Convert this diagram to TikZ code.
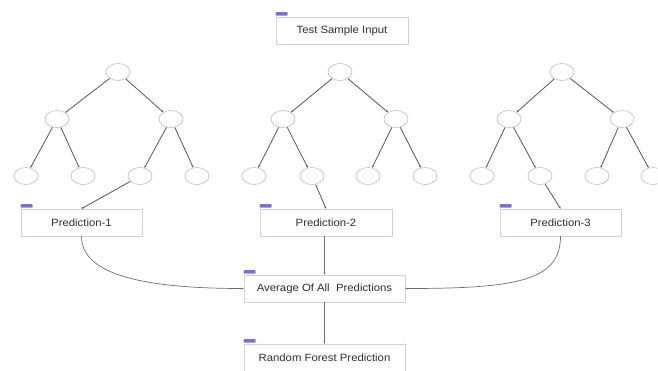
\documentclass[tikz,border=0pt]{standalone}
\usepackage{fontspec}
\setmainfont{Liberation Sans}[FakeStretch=1.08]
\usetikzlibrary{shapes.geometric,arrows.meta}
\definecolor{boxline}{HTML}{CFCFE6}
\definecolor{tabfill}{HTML}{7B6FE0}
\definecolor{leafline}{HTML}{C4C4C4}
\definecolor{edgeline}{HTML}{555555}
\definecolor{txt}{HTML}{2E2E2E}
\tikzset{
  leaf/.style={ellipse,draw=leafline,line width=0.7pt,fill=white,minimum width=24pt,minimum height=17pt,inner sep=0pt},
  card/.style={rectangle,draw=boxline,line width=0.7pt,fill=white,minimum height=27pt,inner sep=0pt,
    font=\fontsize{10.5}{12}\selectfont,text=txt},
  tedge/.style={draw=edgeline,line width=0.8pt,-{Stealth[length=2pt,width=2pt]}},
  flow/.style={draw=edgeline!85,line width=0.7pt,-{Stealth[length=2pt,width=2pt]}},
  tabbox/.style={fill=tabfill,draw=none,rounded corners=0.8pt}
}
\newcommand{\cardtab}[1]{\fill[tabbox] ([yshift=1pt]#1.north west) rectangle ++(12pt,3.5pt);}
\begin{document}
\begin{tikzpicture}[x=1pt,y=-1pt]
\useasboundingbox (0,0) rectangle (658,370);
% boxes
\node[card,minimum width=132pt] (test) at (342,30.5) {Test Sample Input};
\node[card,minimum width=121pt] (pred1) at (81.5,222.5) {Prediction-1};
\node[card,minimum width=132pt] (pred2) at (326,222.5) {Prediction-2};
\node[card,minimum width=121pt] (pred3) at (560.5,222.5) {Prediction-3};
\node[card,minimum width=161pt] (avg) at (324.5,288.5) {Average Of All\ \ Predictions};
\node[card,minimum width=161pt] (rf) at (324.5,357.5) {Random Forest Prediction};
\foreach \b in {test,pred1,pred2,pred3,avg,rf} {\cardtab{\b}}
% tree 1
\node[leaf] (t1r) at (118,72) {};
\node[leaf] (t1a) at (57,119) {};
\node[leaf] (t1b) at (171,119) {};
\node[leaf] (t1l1) at (26,176) {};
\node[leaf] (t1l2) at (83,176) {};
\node[leaf] (t1l3) at (140,176) {};
\node[leaf] (t1l4) at (197,176) {};
% tree 2
\node[leaf] (t2r) at (340,72) {};
\node[leaf] (t2a) at (283,119) {};
\node[leaf] (t2b) at (396,119) {};
\node[leaf] (t2l1) at (254,176) {};
\node[leaf] (t2l2) at (312,176) {};
\node[leaf] (t2l3) at (368,176) {};
\node[leaf] (t2l4) at (425,176) {};
% tree 3
\node[leaf] (t3r) at (562,72) {};
\node[leaf] (t3a) at (509,119) {};
\node[leaf] (t3b) at (622,119) {};
\node[leaf] (t3l1) at (482,176) {};
\node[leaf] (t3l2) at (540,176) {};
\node[leaf] (t3l3) at (597,176) {};
\node[leaf] (t3l4) at (653,176) {};
% tree edges
\foreach \t in {t1,t2,t3} {
  \draw[tedge] (\t r) -- (\t a);
  \draw[tedge] (\t r) -- (\t b);
  \draw[tedge] (\t a) -- (\t l1);
  \draw[tedge] (\t a) -- (\t l2);
  \draw[tedge] (\t b) -- (\t l3);
  \draw[tedge] (\t b) -- (\t l4);
}
\draw[tedge] (t1l3) -- (pred1.north);
\draw[tedge] (t2l2) -- (pred2.north);
\draw[tedge] (t3l2) -- (pred3.north);
% flow
\draw[flow] (pred1.south) .. controls +(0,34) and +(-114,0) .. (avg.west);
\draw[flow] (pred3.south) .. controls +(0,45) and +(110,0) .. (avg.east);
\draw[flow] (pred2.south -| avg.north) -- (avg.north);
\draw[flow] (avg.south) -- (rf.north);
\end{tikzpicture}
\end{document}
